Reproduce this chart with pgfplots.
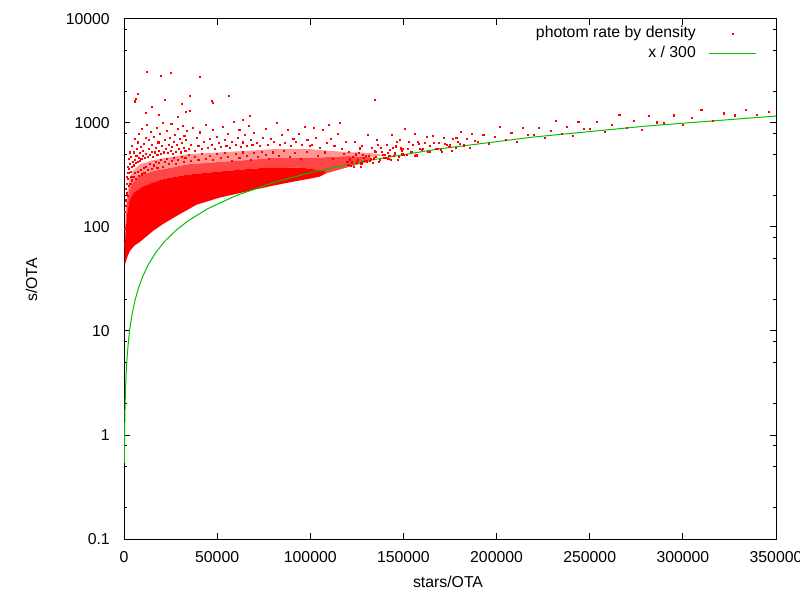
\documentclass[border=0pt]{standalone}
\usepackage{fontspec}
\setmainfont{Liberation Sans}
\usepackage{pgfplots}
\pgfplotsset{compat=1.18}
\definecolor{gnured}{RGB}{255,0,0}
\definecolor{gnugreen}{RGB}{0,192,0}
\definecolor{midred}{RGB}{255,70,70}
\definecolor{lowred}{RGB}{255,150,150}
\begin{document}
\fontsize{15.8bp}{18bp}\selectfont
\begin{tikzpicture}
\useasboundingbox (0,0) rectangle (800bp,600bp);
\begin{axis}[
  at={(124bp,61bp)}, anchor=south west,
  width=652bp, height=520bp, scale only axis,
  xmin=0, xmax=350000, ymin=0.1, ymax=10000,
  ymode=log,
  xtick={0,50000,100000,150000,200000,250000,300000,350000},
  xticklabels={0,50000,100000,150000,200000,250000,300000,350000},
  ytick={0.1,1,10,100,1000,10000},
  yticklabels={0.1,1,10,100,1000,10000},
  minor ytick={0.2,0.5,0.8,2,5,8,20,50,80,200,500,800,2000,5000,8000},
  minor x tick num=0,
  scaled x ticks=false,
  xtick pos=both, ytick pos=both, ticklabel pos=left,
  tick align=inside,
  major tick length=6bp, minor tick length=3bp,
  every tick/.style={black, line width=1bp},
  axis line style={black, line width=1bp},
  yticklabel style={xshift=-8.8bp},
  xticklabel style={yshift=-7.5bp},
  xlabel={stars/OTA}, ylabel={s/OTA},
  xlabel style={at={(axis description cs:0.497,-0.0942)}, anchor=base},
  ylabel style={at={(axis description cs:-0.1334,0.498)}, anchor=base, rotate=0},
  legend cell align=right,
  legend plot pos=right,
  legend style={draw=none, fill=none, at={(axis description cs:0.9709,0.9900)}, anchor=north east,
    inner sep=0pt, row sep=0.7bp, nodes={inner sep=2.5bp, text height=11bp, text depth=3bp}},
]
% lower density halo zone
\addplot[fill=lowred, draw=none, forget plot] coordinates {
(400,65) (800,105) (1500,165) (3000,235) (5000,270) (8600,310) (15700,345) (25000,370) (34000,400) (50000,420) (66000,440) (80000,460) (100000,460) (110000,470) (120000,480) (132000,470) (140000,490)
(132000,515) (120000,525) (110000,540) (100000,560) (80000,560) (66000,540) (50000,520) (34000,500) (25000,470) (15700,440) (8600,400) (5000,350) (3000,300) (1500,200) (800,130) (400,70)
} -- cycle;
% medium density zone
\addplot[fill=midred, draw=none, forget plot] coordinates {
(400,60) (800,85) (1500,130) (3000,182) (5000,212) (10000,245) (15700,268) (22000,292) (34000,318) (50000,340) (66000,360) (75000,370) (95000,372) (104000,355) (108000,345) (108000,325) (114000,350) (120000,375) (128000,410) (134000,440)
(132000,470) (120000,480) (110000,470) (100000,460) (80000,460) (66000,440) (50000,420) (34000,400) (25000,370) (15700,345) (8600,310) (5000,270) (3000,235) (1500,165) (800,105) (400,65)
} -- cycle;
% dense core
\addplot[fill=gnured, draw=none, forget plot] coordinates {
(400,43) (600,44) (1500,50) (3200,59) (5500,66) (8600,72) (12000,81) (15700,92) (21000,107) (28000,127) (39000,164) (51500,192) (67600,223) (80000,250) (92000,275) (100000,292) (105000,305) (108000,325)
(108000,345) (104000,355) (95000,372) (75000,370) (66000,360) (50000,340) (34000,318) (22000,292) (15700,268) (10000,245) (5000,212) (3000,182) (1500,130) (800,85) (400,60)
} -- cycle;
% scattered points
\addplot[gnured, only marks, mark=square*, mark size=0.55bp, mark options={gnured, line width=0pt},
  legend image code/.code={\path[draw=none, fill=none] (0bp,-3bp) rectangle (58bp,3bp); \fill[gnured] (34bp,-0.5bp) rectangle (35bp,0.5bp);}]
coordinates {
(12520,3070) (19860,2830) (25230,3010) (40960,2770) (7690,1890) (6610,1700) (5910,1610) (56530,1800) (35430,1800) (15200,1430)
(11980,1260) (31130,1520) (47090,1630) (47950,1570) (35590,1310) (28830,1150) (67480,1170) (134700,1660) (22170,1650) (33280,1270)
(18790,1186) (63720,1070)
(600,95) (700,140) (900,180) (1100,160) (1200,230) (1400,300) (1600,210) (1800,260) (2000,380) (2200,290) (2400,330) (2600,450)
(2800,360) (3000,520) (3300,400) (3600,340) (3900,470) (4200,380) (4500,600) (4800,420)
(5200,390) (5500,520) (5800,440) (6100,700) (6400,410) (6700,480) (7000,560) (7300,420) (7600,650) (7900,460) (8200,780) (8500,430)
(8800,510) (9100,590) (9400,450) (9700,870) (10000,480) (10400,540) (10800,630) (11200,460) (11600,720) (12000,500) (12400,950)
(12800,470) (13200,560) (13600,680) (14000,490) (14400,820) (14800,530) (15200,610)
(15600,470) (16000,740) (16500,520) (17000,580) (17500,900) (18000,490) (18500,650) (19000,540) (19500,780) (20000,500) (20500,600)
(21000,1000) (21500,520) (22000,690) (22500,560) (23000,840) (23500,510) (24000,620) (24500,720) (25000,540) (25500,980) (26000,590)
(26500,500) (27000,660) (27500,770) (28000,530) (28500,610) (29000,880) (29500,560) (30000,700) (30500,520) (31000,640) (31500,940)
(32000,580) (32500,750) (33000,540) (33500,680) (34000,830)
(35000,560) (36000,620) (37000,900) (38000,540) (39000,720) (40000,600) (41000,810) (42000,560) (43000,660) (44000,960) (45000,580)
(46000,700) (47000,620) (48000,850) (49000,560) (50000,740) (51000,640) (52000,590) (53000,920) (54000,680) (55000,600) (56000,780)
(57000,570) (58000,660) (59000,1020) (60000,610) (61000,720) (62000,860) (63000,590) (64000,650) (65000,760) (66000,600) (67000,940)
(68000,680) (69000,610)
(70000,800) (71500,640) (73000,600) (74500,720) (76000,880) (77500,620) (79000,700) (80500,660) (82000,990) (83500,610) (85000,760)
(86500,640) (88000,860) (89500,600) (91000,700) (92500,660) (94000,780) (95500,620) (97000,920) (98500,680) (100000,600)
(101000,620) (103000,720) (105000,580) (107000,850) (109000,640) (111000,700) (113000,600) (115000,780) (117000,560) (119000,660)
(102000,900) (110000,950) (116000,1000)
(2000,200) (2500,250) (3500,260) (4000,300) (4500,280) (5500,300) (6000,330) (6500,290) (7500,340) (8000,310) (9000,350) (9500,320)
(10500,370) (11000,330) (12000,380) (13000,350) (14000,400) (15000,360) (16000,390) (17000,420) (18000,370) (19000,410) (20000,440)
(21000,380) (22000,420) (23000,450) (24000,400) (26000,430) (27000,460) (28000,400) (29000,440) (31000,470) (32000,420) (33000,460)
(35000,490) (36000,430) (38000,470) (40000,440) (42000,500) (44000,450) (46000,480) (48000,440) (50000,500) (52000,460) (54000,510)
(56000,470) (58000,430) (60000,500) (62000,460) (64000,520) (66000,480) (68000,440) (70000,510) (72000,470) (74000,530) (76000,490)
(78000,450) (80000,520) (83000,480) (86000,540) (89000,470) (92000,510) (95000,450) (98000,530) (104000,480) (108000,520) (112000,450)
(118000,500)
(120000,420) (121000,524) (122000,386) (123000,472) (124000,661) (125000,417) (126000,512) (127000,381) (128000,597) (129000,464)
(130000,485) (131000,764) (132000,427) (133000,576) (134000,456) (135000,531) (136000,680) (137000,425) (138000,575) (139000,491)
(140000,490) (141000,611) (142000,450) (143000,548) (144000,768) (145000,483) (146000,594) (147000,441) (148000,691) (149000,536)
(150000,560) (151000,881) (152000,491) (153000,663) (154000,524) (155000,610) (156000,780) (157000,487) (158000,658) (159000,562)
(160000,555) (161500,646) (163000,522) (164500,603) (166000,747) (167500,558) (169000,648) (170500,529) (172000,717) (173500,613)
(175000,607) (176500,706) (178000,570) (179500,658) (181000,814) (182500,608) (184000,705) (185500,575) (187000,779) (188500,666)
(190000,659) (193000,772) (196000,627) (199000,730) (202000,909) (205000,683) (208000,797) (211000,654) (214000,892) (217000,767)
(220000,763) (223000,892) (226000,723) (229000,840) (232000,1044) (235000,783) (238000,912) (241000,747) (244000,1017) (247000,873)
(250000,867) (254000,1016) (258000,826) (262000,961) (266000,1197) (270000,900) (274000,1050) (278000,862) (282000,1175) (286000,1011)
(290000,1005) (295000,1180) (300000,960) (305000,1118) (310000,1343) (316000,1053) (322000,1234) (328000,1181) (334000,1336) (340000,1190)
(346000,1269)
(120500,394) (121500,446) (122500,417) (123500,379) (124500,498) (125500,439) (126500,569) (127500,408) (128500,493) (129500,432)
(130500,426) (131500,482) (132500,451) (133500,409) (134500,538) (135500,474) (136500,614) (137500,440) (138500,531) (139500,465)
(140500,459) (141500,519) (142500,485) (143500,440) (144500,578) (145500,509) (146500,659) (147500,472) (148500,569) (149500,498)
(150500,492) (152500,559) (154500,525) (156500,480) (158500,634) (160500,562) (162500,731) (164000,525) (166500,638) (168500,562)
(170000,555) (172500,633) (174500,593) (176000,540) (178500,714) (180500,632)
};
\addlegendentry{photom rate by density}
\addplot[color=gnugreen, line width=1bp, mark=none,
  legend image code/.code={\draw[gnugreen, line width=1bp] (11bp,0bp) -- (58bp,0bp);}]
coordinates {
(162,0.54) (200,0.6667) (300,1) (450,1.5) (600,2) (800,2.6667) (1000,3.3333) (1300,4.3333) (1700,5.6667) (2200,7.3333)
(2800,9.3333) (3500,11.667) (4500,15) (6000,20) (8000,26.667) (10000,33.333) (13000,43.333) (17000,56.667) (22000,73.333)
(28000,93.333) (35000,116.667) (45000,150) (60000,200) (80000,266.667) (100000,333.333) (130000,433.333) (170000,566.667)
(220000,733.333) (280000,933.333) (350000,1166.667)
};
\addlegendentry{x / 300}
\end{axis}
\end{tikzpicture}
\end{document}
